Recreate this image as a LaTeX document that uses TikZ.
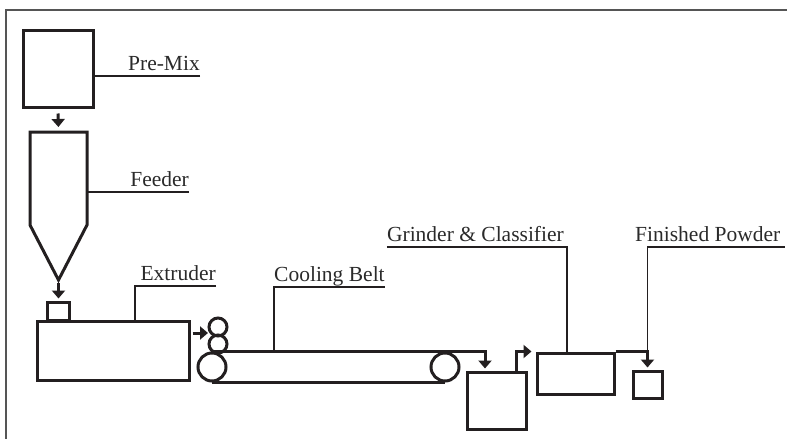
\documentclass[tikz,border=0pt]{standalone}
\usepackage{fontspec}
\setmainfont{Liberation Serif}
\usepackage{xcolor}
\usepackage{tikz}
\usetikzlibrary{arrows.meta,positioning,calc}
\definecolor{inkc}{HTML}{231F20}
\definecolor{textc}{HTML}{2A2A2A}
\definecolor{framec}{HTML}{555555}

\begin{document}
\begin{tikzpicture}[x=1pt,y=-1pt,font=\fontsize{21.5}{24}\selectfont,
  unit/.style={draw=inkc,line width=3pt,inner sep=0pt},
  roll/.style={unit,circle,minimum size=#1},
  lb/.style={inner sep=0pt,text depth=5pt,text=textc},
  ld/.style={draw=inkc,line width=1.1pt},
  ar/.style={-{Triangle[length=8pt,width=13pt]},inkc,line width=3pt},
]
\useasboundingbox (0,0) rectangle (787,439);
\draw[framec,line width=1.4pt] (787,10) -- (6,10) -- (6,439);

% units
\node[unit,minimum width=70pt,minimum height=77pt] (premix) at (58,68.5) {};
\draw[unit] (30,132) -- (87,132) -- (87,225) -- (58.5,280) -- (30,225) -- cycle;
\coordinate (feedtop) at (58.5,132);
\coordinate (feedtip) at (58.5,280);
\coordinate (feedside) at (87,192);
\node[unit,minimum width=22pt,minimum height=18pt] (inlet) at (58.5,311) {};
\node[unit,minimum width=152pt,minimum height=59pt] (extruder) at (113,350.5) {};
\node[roll=18pt] (nipA) at (218,327) {};
\node[roll=18pt] (nipB) at (218,344) {};
\node[roll=28pt] (drumL) at (212,367) {};
\node[roll=28pt] (drumR) at (445,367) {};
\draw[unit] (drumL.north) -- (drumR.north);
\draw[unit] (drumL.south) -- (drumR.south);
\node[unit,minimum width=59pt,minimum height=57pt] (bin) at (496.5,400.5) {};
\node[unit,minimum width=77pt,minimum height=41pt] (classifier) at (575.5,373.5) {};
\node[unit,minimum width=29pt,minimum height=27pt] (product) at (647.5,384.5) {};
\coordinate (nip) at (208,333);

% flow
\draw[ar,shorten <=5pt,shorten >=5pt] (premix.south) -- (feedtop);
\draw[ar,shorten <=3pt,shorten >=2pt] (feedtip) -- (inlet.north);
\draw[ar,shorten <=2pt] (extruder.east |- nip) -- (nip);
\draw[ar,shorten >=2pt] (drumR.north) -| ([xshift=-11.5pt]bin.north);
\draw[ar,shorten >=4pt] ([xshift=19.5pt]bin.north) |- (classifier.north west);
\draw[ar,shorten >=2pt] (classifier.north east) -| (product.north);

% labels
\node[lb,anchor=south east] (premixlab) at (200,76) {Pre-Mix};
\node[lb,anchor=south east] (feederlab) at (189,192) {Feeder};
\node[lb,anchor=south east] (extruderlab) at (216,286) {Extruder};
\node[lb,anchor=south west] (coollab) at (274,287) {Cooling Belt};
\node[lb,anchor=south east] (grindlab) at (564,247) {Grinder \& Classifier};
\node[lb,anchor=south west] (finlab) at (635,247) {Finished Powder};

\draw[ld] (premixlab.south east) -- (premixlab.south east -| premix.east);
\draw[ld] (feederlab.south east) -- (feedside);
\draw[ld] (extruderlab.south east) -| ([xshift=22pt]extruder.north);
\draw[ld] (coollab.south east) -- (coollab.south west) -- (coollab.south west |- drumL.north);
\draw[ld] (grindlab.south west) -| ([xshift=-8.5pt]classifier.north);
\draw[ld] ([xshift=4pt]finlab.south east) -| (product.north |- classifier.north);
\end{tikzpicture}
\end{document}
